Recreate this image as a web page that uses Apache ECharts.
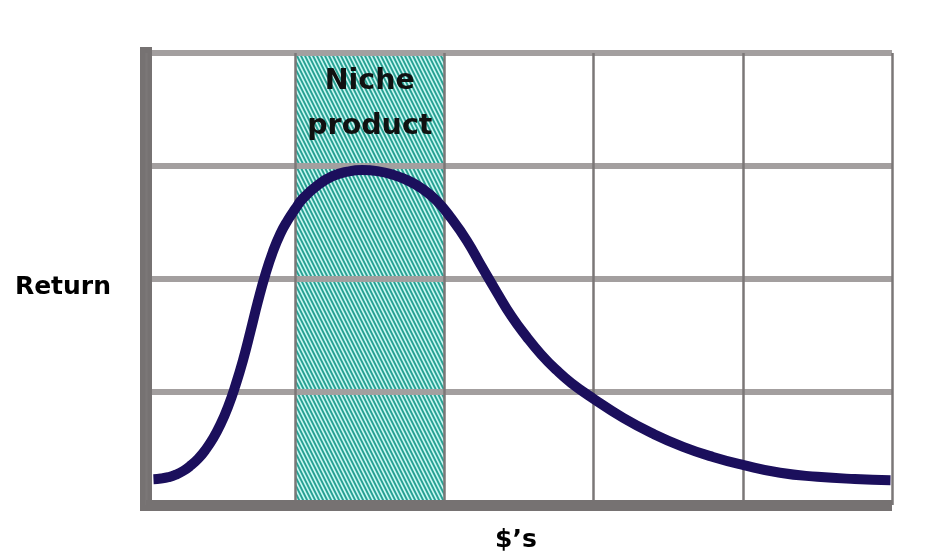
<!DOCTYPE html>
<html>
<head>
<meta charset="utf-8">
<script src="https://cdn.jsdelivr.net/npm/echarts@6/dist/echarts.min.js"></script>
<style>
html,body{margin:0;padding:0;background:#fff;}
#chart{width:930px;height:559px;}
</style>
</head>
<body>
<div id="chart"></div>
<script>
// Data
const curveX = [0.05, 0.10, 0.15, 0.20, 0.25, 0.30, 0.35, 0.40, 0.45, 0.50, 0.55, 0.60, 0.65, 0.70, 0.75, 0.80, 0.85, 0.90, 0.95, 1.00, 1.05, 1.15, 1.25, 1.35, 1.45, 1.55, 1.65, 1.75, 1.85, 1.95, 2.05, 2.15, 2.25, 2.35, 2.45, 2.55, 2.65, 2.75, 2.85, 3.0, 3.2, 3.4, 3.6, 3.8, 4.0, 4.25, 4.5, 4.75, 4.99];
const curveY = [0.228, 0.234, 0.246, 0.268, 0.302, 0.35, 0.41, 0.49, 0.59, 0.715, 0.87, 1.06, 1.28, 1.535, 1.80, 2.04, 2.24, 2.40, 2.52, 2.62, 2.71, 2.83, 2.91, 2.95, 2.965, 2.955, 2.925, 2.875, 2.80, 2.69, 2.53, 2.34, 2.11, 1.885, 1.67, 1.49, 1.33, 1.195, 1.08, 0.94, 0.77, 0.63, 0.515, 0.425, 0.355, 0.285, 0.25, 0.23, 0.22];
const nicheRange = [1, 2];      // x-range of the niche band
const nicheLabel = 'Niche\nproduct';
const xName = '$\u2019s';
const yName = 'Return';

// Hatch pattern
function makePattern() {
  const W = 4, H = 8, S = 4;
  const c = document.createElement('canvas');
  c.width = W; c.height = H;
  const ctx = c.getContext('2d');
  const img = ctx.createImageData(W, H);
  const teal = [38, 160, 146], light = [200, 247, 242];
  for (let y = 0; y < H; y++) {
    for (let x = 0; x < W; x++) {
      let cnt = 0;
      for (let sy = 0; sy < S; sy++) for (let sx = 0; sx < S; sx++) {
        const px = x + (sx + 0.5) / S, py = y + (sy + 0.5) / S;
        let v = (px - py / 2) % 4; if (v < 0) v += 4;
        if (v < 2.1) cnt++;
      }
      const f = cnt / (S * S);
      const i = (y * W + x) * 4;
      for (let k = 0; k < 3; k++) img.data[i + k] = Math.round(teal[k] * f + light[k] * (1 - f));
      img.data[i + 3] = 255;
    }
  }
  ctx.putImageData(img, 0, 0);
  return c;
}
const pattern = makePattern();

const chart = echarts.init(document.getElementById('chart'), null, {renderer: 'canvas'});
const font = '"DejaVu Sans", Verdana, sans-serif';
chart.setOption({
  animation: false,
  grid: {left: 146, right: 38, top: 53, bottom: 54},
  xAxis: {
    type: 'value', min: 0, max: 5, interval: 1, z: 4,
    name: xName, nameLocation: 'middle', nameGap: 23,
    nameTextStyle: {fontFamily: font, fontWeight: 'bold', fontSize: 25, color: '#000', padding: [0, 6, 0, 0]},
    axisLine: {show: true, onZero: false, lineStyle: {color: '#767272', width: 11, cap: 'butt'}},
    axisTick: {show: false}, axisLabel: {show: false},
    splitLine: {show: true, lineStyle: {color: '#7b7777', width: 2.5}}
  },
  yAxis: {
    type: 'value', min: 0, max: 4, interval: 1, z: 3,
    name: yName, nameLocation: 'middle', nameGap: 35, nameRotate: 0,
    nameTextStyle: {fontFamily: font, fontWeight: 'bold', fontSize: 25, color: '#000', verticalAlign: 'top', lineHeight: 17},
    axisLine: {show: true, lineStyle: {color: '#767272', width: 12, cap: 'square'}},
    axisTick: {show: false}, axisLabel: {show: false},
    splitLine: {show: true, lineStyle: {color: '#a39f9f', width: 6}}
  },
  series: [
    {
      type: 'custom', z: 1,
      data: [[nicheRange[0], nicheRange[1]]],
      renderItem: function (params, api) {
        const p0 = api.coord([api.value(0), 4]);
        const p1 = api.coord([api.value(1), 0]);
        return {
          type: 'group',
          children: [
            {type: 'rect', shape: {x: p0[0], y: p0[1], width: p1[0] - p0[0], height: p1[1] - p0[1]},
             style: {fill: {image: pattern, repeat: 'repeat'}}},
            {type: 'text', x: (p0[0] + p1[0]) / 2, y: p0[1] + 6,
             style: {text: nicheLabel, fontFamily: font, fontWeight: 'bold', fontSize: 28.5, lineHeight: 45,
                     fill: '#111', align: 'center', verticalAlign: 'top'}}
          ]
        };
      }
    },
    {
      type: 'line', z: 6, smooth: 0.5, symbol: 'none',
      data: curveX.map((x, i) => [x, curveY[i]]),
      lineStyle: {color: '#1b0f5c', width: 10, cap: 'butt'}
    }
  ]
});
</script>
</body>
</html>
